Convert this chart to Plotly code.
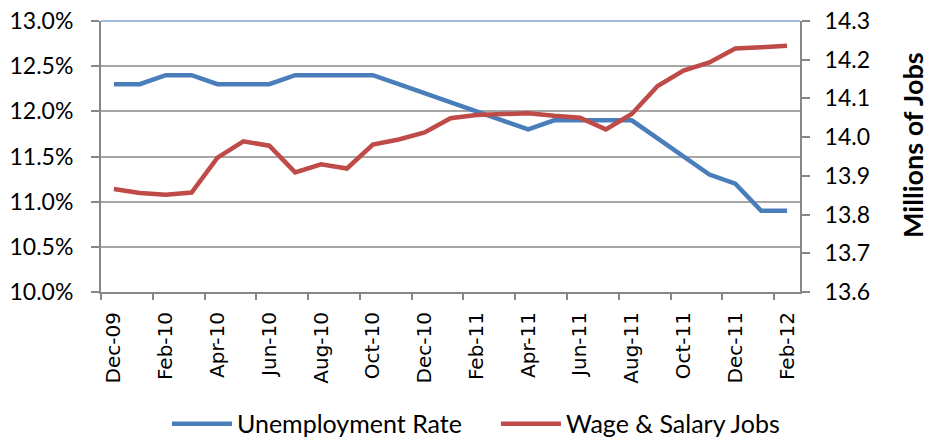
import plotly.graph_objects as go

months = ["Dec-09", "Jan-10", "Feb-10", "Mar-10", "Apr-10", "May-10", "Jun-10", "Jul-10",
          "Aug-10", "Sep-10", "Oct-10", "Nov-10", "Dec-10", "Jan-11", "Feb-11", "Mar-11",
          "Apr-11", "May-11", "Jun-11", "Jul-11", "Aug-11", "Sep-11", "Oct-11", "Nov-11",
          "Dec-11", "Jan-12", "Feb-12"]

unemployment_rate = [12.3, 12.3, 12.4, 12.4, 12.3, 12.3, 12.3, 12.4, 12.4, 12.4, 12.4, 12.3,
                     12.2, 12.1, 12.0, 11.9, 11.8, 11.9, 11.9, 11.9, 11.9, 11.7, 11.5, 11.3,
                     11.2, 10.9, 10.9]

wage_salary_jobs = [13.866, 13.856, 13.851, 13.857, 13.947, 13.989, 13.978, 13.909, 13.930,
                    13.919, 13.981, 13.994, 14.012, 14.049, 14.057, 14.059, 14.062, 14.055,
                    14.050, 14.020, 14.060, 14.132, 14.172, 14.193, 14.229, 14.232, 14.236]

left_ticks = [10.0, 10.5, 11.0, 11.5, 12.0, 12.5, 13.0]
left_tick_labels = ["10.0%", "10.5%", "11.0%", "11.5%", "12.0%", "12.5%", "13.0%"]
right_ticks = [13.6, 13.7, 13.8, 13.9, 14.0, 14.1, 14.2, 14.3]
right_tick_labels = ["13.6", "13.7", "13.8", "13.9", "14.0", "14.1", "14.2", "14.3"]
right_axis_title = "Millions of Jobs"

BLUE = "#4A7EBB"
RED = "#BE4B48"
GRID = "#A6A6A6"
AXIS = "#878787"
FONT = "Lato"

fig = go.Figure()
fig.add_trace(go.Scatter(x=months, y=unemployment_rate, name="Unemployment Rate",
                         mode="lines", line=dict(color=BLUE, width=4.5), yaxis="y"))
fig.add_trace(go.Scatter(x=months, y=wage_salary_jobs, name="Wage & Salary Jobs",
                         mode="lines", line=dict(color=RED, width=4.5), yaxis="y2"))

fig.update_layout(
    width=928, height=440,
    margin=dict(l=101, r=128, t=21, b=148, autoexpand=False),
    paper_bgcolor="white", plot_bgcolor="white",
    font=dict(family=FONT, size=20, color="black"),
    showlegend=True,
    legend=dict(orientation="h", x=0.565, xanchor="center", y=-0.487, yanchor="middle",
                font=dict(family=FONT, size=25, color="black"),
                itemwidth=60, tracegroupgap=0, entrywidth=254),
    xaxis=dict(type="category", range=[-0.5, 26.5], dtick=2, tickson="boundaries",
               ticks="outside", ticklen=6, tickcolor=AXIS, tickwidth=1.5,
               showline=True, linecolor=AXIS, linewidth=2, showgrid=False,
               tickangle=-90, ticklabelstandoff=10, automargin=False,
               ticklabeloverflow="allow",
               tickfont=dict(family="DejaVu Sans", size=20)),
    yaxis=dict(range=[10, 13], tickvals=left_ticks, ticktext=left_tick_labels,
               ticks="outside", ticklen=8, tickcolor=AXIS, tickwidth=1.5,
               showline=True, linecolor=AXIS, linewidth=2, automargin=False,
               showgrid=True, gridcolor=GRID, gridwidth=1.5, zeroline=False,
               ticklabelstandoff=13, ticklabeloverflow="allow",
               tickfont=dict(family=FONT, size=23)),
    yaxis2=dict(range=[13.6, 14.3], tickvals=right_ticks, ticktext=right_tick_labels,
                overlaying="y", side="right", automargin=False,
                ticks="outside", ticklen=8, tickcolor=AXIS, tickwidth=1.5,
                showline=True, linecolor=AXIS, linewidth=2, showgrid=False, zeroline=False,
                ticklabelstandoff=10, ticklabeloverflow="allow",
                tickfont=dict(family=FONT, size=23)),
)

fig.add_annotation(text="<b>" + right_axis_title + "</b>", xref="paper", yref="paper",
                   x=1.160, y=0.542, xanchor="center", yanchor="middle", textangle=-90,
                   showarrow=False, font=dict(family=FONT, size=27, color="black"))

fig.add_shape(type="line", xref="paper", yref="paper", x0=0, x1=1, y0=1, y1=1,
              line=dict(color="#7FA3D0", width=1.5))

fig.write_html("out.html", config={"displayModeBar": False},
               post_script="document.body.style.margin='0';document.body.style.overflow='hidden';")
